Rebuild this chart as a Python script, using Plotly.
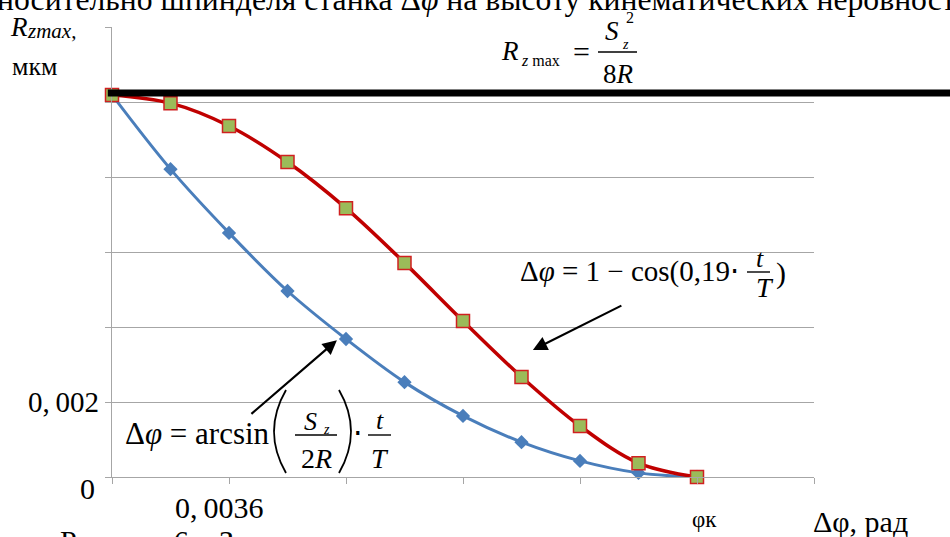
import plotly.graph_objects as go

# ---------------- data ----------------
dphi_rad = [0.0, 0.0018, 0.0036, 0.0054, 0.0072, 0.0090, 0.0108, 0.0126, 0.0144, 0.0162, 0.0180]
rz_cos = [0.01019, 0.00997, 0.00936, 0.00840, 0.00717, 0.00571, 0.00416, 0.00267, 0.00136, 0.00037, 0.0]
rz_arcsin = [0.01019, 0.00821, 0.00651, 0.00496, 0.00368, 0.00253, 0.00163, 0.00093, 0.00043, 0.00011, 0.0]
rz_max_level = 0.01024
y_tickvals = [0, 0.002, 0.004, 0.006, 0.008, 0.010, 0.012]
y_ticktext = ["", "0,\u2009002", "", "", "", "", ""]
x_tickvals = [0, 0.0036, 0.0072, 0.0108, 0.0144, 0.0180, 0.0216]

# ---------------- layout helpers ----------------
L, R, T, B = 112, 136, 27, 60
W, H = 950, 537
PW, PH = W - L - R, H - T - B
FONT = "Liberation Serif, Times New Roman, serif"


def px(x):
    return (x - L) / PW


def py(y):
    return (H - B - y) / PH


annotations = []
shapes = []


def txt(x, y, text, size, xanchor="center"):
    annotations.append(dict(
        x=px(x), y=py(y), xref="paper", yref="paper", text=text,
        showarrow=False, xanchor=xanchor, yanchor="middle",
        font=dict(family=FONT, size=size, color="black"),
        borderpad=0, borderwidth=0,
    ))


def bar(x0, x1, y, w=1.4):
    shapes.append(dict(type="line", xref="paper", yref="paper",
                       x0=px(x0), x1=px(x1), y0=py(y), y1=py(y),
                       line=dict(color="black", width=w)))


def paren(x_end, x_mid, y0, y1, w=1.8):
    ym = (y0 + y1) / 2
    cx = 2 * x_mid - x_end
    path = "M {a},{b} Q {c},{d} {e},{f}".format(
        a=px(x_end), b=py(y0), c=px(cx), d=py(ym), e=px(x_end), f=py(y1))
    shapes.append(dict(type="path", xref="paper", yref="paper", path=path,
                       line=dict(color="black", width=w)))


fig = go.Figure()

fig.add_trace(go.Scatter(
    x=dphi_rad, y=rz_arcsin, mode="lines+markers", line_shape="spline",
    line=dict(color="#4A7EBB", width=3),
    marker=dict(symbol="diamond", size=11, color="#4A7EBB"),
    showlegend=False, cliponaxis=False,
))
fig.add_trace(go.Scatter(
    x=dphi_rad, y=rz_cos, mode="lines+markers", line_shape="spline",
    line=dict(color="#C00000", width=3.5),
    marker=dict(symbol="square", size=13, color="#9BBB59",
                line=dict(color="#D02020", width=1.5)),
    showlegend=False, cliponaxis=False,
))

# thick black level line R_zmax
shapes.append(dict(type="line", xref="paper", yref="y",
                   x0=-0.006, x1=1.2, y0=rz_max_level, y1=rz_max_level,
                   line=dict(color="black", width=7), layer="above"))

# page text clipped at top/bottom
txt(-3, 0, "носительно шпинделя станка Δ<i>φ</i> на высоту кинематических неровностей", 31.7, "left")
txt(60, 540, "Рисунок 6 – Зависимость", 30, "left")

# y-axis title
txt(10, 27, "<i>R</i>", 27, "left")
txt(27, 31, "<i>zmax</i>,", 21, "left")
txt(12, 66, "мкм", 26, "left")

# axis labels
txt(87, 488, "0", 30)
txt(219, 507, "0,\u20090036", 30)
txt(704, 519, "φк", 23)
txt(813, 521, "Δφ, рад", 30, "left")

# formula: R_zmax = S_z^2 / 8R
txt(501, 51, "<i>R</i>", 27, "left")
txt(521, 60, "<i>z</i> max", 16, "left")
txt(581, 51, "=", 30)
txt(612, 31, "<i>S</i>", 27)
txt(630, 18, "2", 16)
txt(625, 44, "<i>z</i>", 14)
bar(598, 637, 52)
txt(618, 74, "8<i>R</i>", 27)

# formula: Δφ = 1 − cos(0,19·t/T)
txt(520, 271, "Δ<i>φ</i> = 1 − cos(0,19⋅", 29, "left")
txt(760, 258, "<i>t</i>", 26)
bar(747, 770, 272)
txt(765, 287, "<i>T</i>", 28)
txt(781, 273, ")", 30)

# formula: Δφ = arcsin(S_z/2R)·t/T
txt(125, 433, "Δ<i>φ</i> = arcsin", 31, "left")
paren(286, 274, 390, 473)
paren(339, 351, 390, 473)
txt(310, 421, "<i>S</i>", 26)
txt(326, 429, "<i>z</i>", 14)
bar(295, 337, 435)
txt(316, 458, "2<i>R</i>", 28)
txt(358, 432, "⋅", 30)
txt(380, 420, "<i>t</i>", 26)
bar(368, 391, 435)
txt(380, 458, "<i>T</i>", 28)

# arrows
annotations.append(dict(x=0.00692, y=0.00365, xref="x", yref="y", ax=-87, ay=75,
                        text="", showarrow=True, arrowhead=2, arrowsize=1.3,
                        arrowwidth=2.2, arrowcolor="black"))
annotations.append(dict(x=0.01295, y=0.00339, xref="x", yref="y", ax=90, ay=-45,
                        text="", showarrow=True, arrowhead=2, arrowsize=1.3,
                        arrowwidth=2.2, arrowcolor="black"))

fig.update_layout(
    width=W, height=H,
    margin=dict(l=L, r=R, t=T, b=B, pad=0),
    paper_bgcolor="white", plot_bgcolor="white",
    font=dict(family=FONT, size=29, color="black"),
    annotations=annotations, shapes=shapes,
    xaxis=dict(range=[0, 0.0216], tickvals=x_tickvals, showticklabels=False,
               ticks="outside", ticklen=6, tickcolor="#A6A6A6", tickwidth=1.3,
               showline=True, linecolor="#A6A6A6", linewidth=1.3,
               showgrid=False, zeroline=False),
    yaxis=dict(range=[0, 0.012], tickvals=y_tickvals, ticktext=y_ticktext,
               ticks="outside", ticklen=6, tickcolor="#A6A6A6", tickwidth=1.3,
               showline=True, linecolor="#A6A6A6", linewidth=1.3,
               showgrid=True, gridcolor="#A6A6A6", gridwidth=1.3,
               zeroline=False, tickfont=dict(family=FONT, size=29, color="black")),
)

fig.write_html("out.html", config={"displayModeBar": False},
               post_script="document.body.style.margin='0';")
